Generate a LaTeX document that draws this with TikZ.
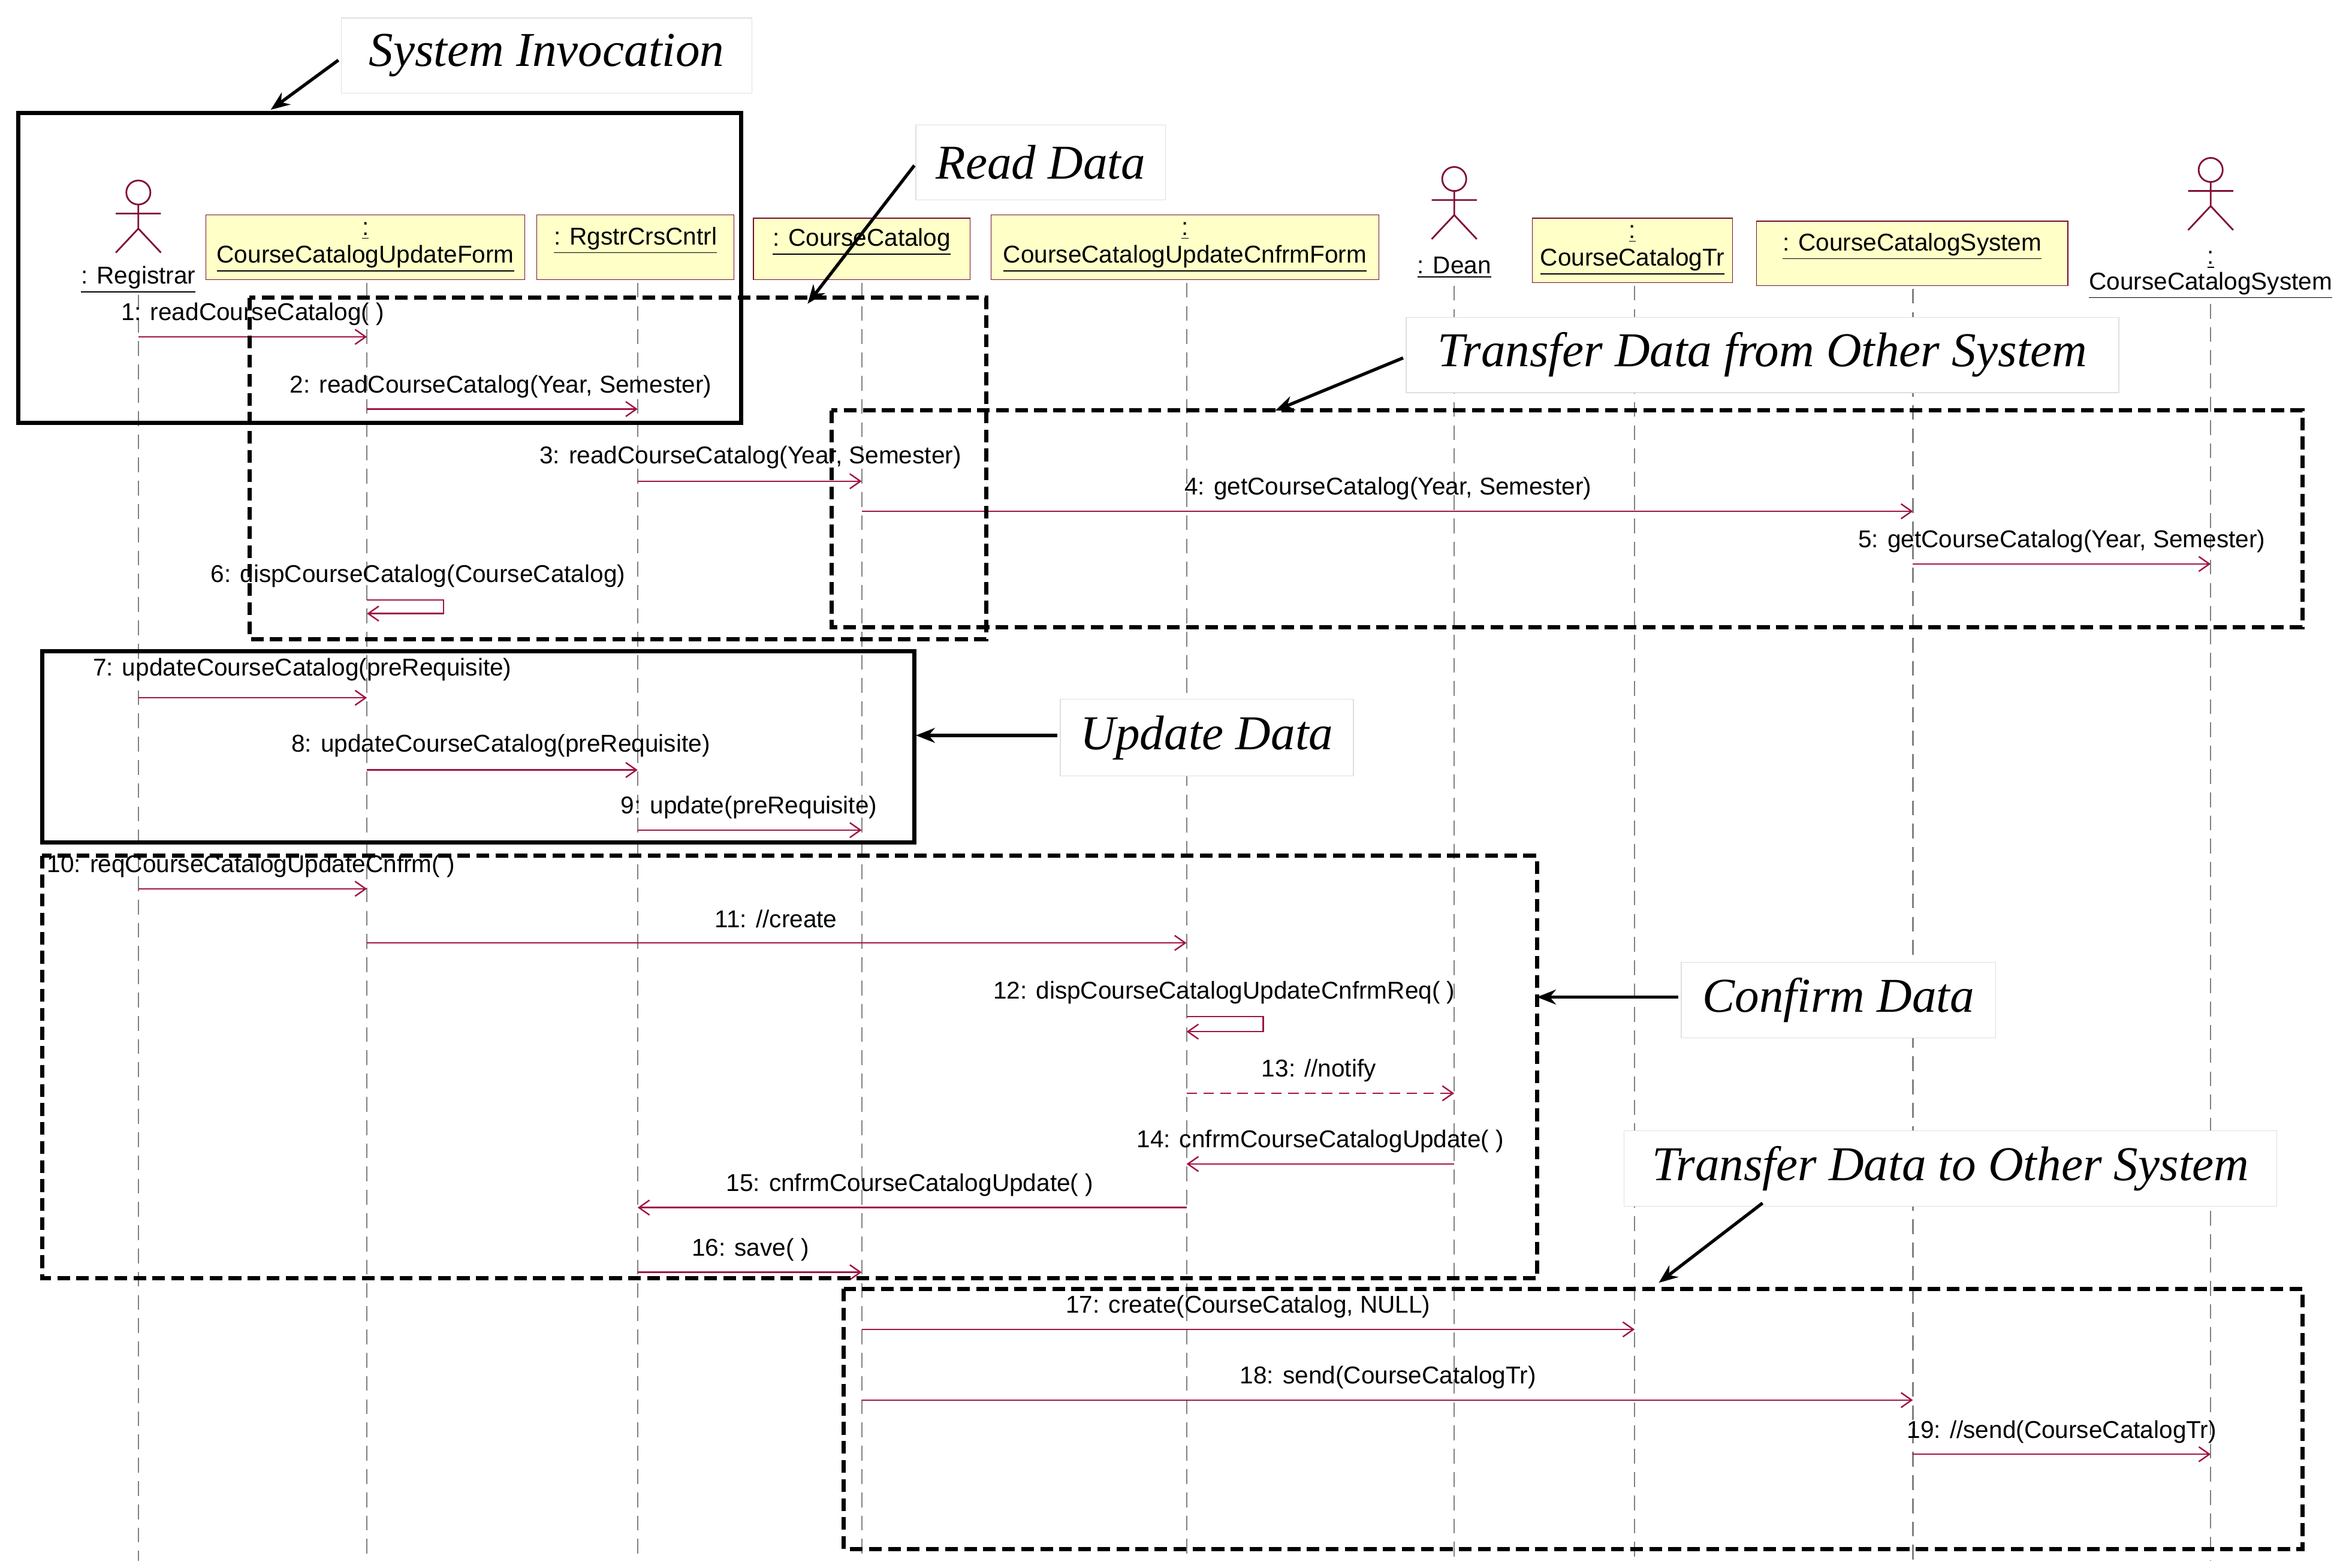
\documentclass[tikz,border=0pt]{standalone}
\usepackage{fontspec}
\setmainfont{Liberation Sans}
\newfontfamily\ttl{Liberation Serif}
\usetikzlibrary{arrows.meta}
\definecolor{msgc}{RGB}{160,20,70}
\definecolor{objf}{RGB}{255,255,200}
\tikzset{
 lbl/.style={font=\fontsize{11.5}{13}\selectfont,inner sep=1pt},
 obj/.style={draw=msgc!70!black,fill=objf,font=\fontsize{11.5}{13}\selectfont,align=center,inner sep=0pt},
 life/.style={gray,dash pattern=on 7pt off 4pt,line width=0.6pt},
 msg/.style={msgc,line width=0.7pt,-{Straight Barb[length=5pt,width=7pt]}},
 dmsg/.style={msg,dash pattern=on 5pt off 3pt},
 sfrm/.style={draw,line width=2pt},
 dfrm/.style={draw,line width=2pt,dash pattern=on 6pt off 3pt},
 tbox/.style={draw=gray!25,fill=white,font=\ttl\itshape\fontsize{23}{27}\selectfont,inner sep=0pt},
 pt/.style={-{Stealth[length=9pt,width=7pt]},line width=1.5pt},
 actor/.style={msgc!80!black,line width=0.8pt}
}
\newcommand{\actorfig}[3]{% x, headY, name
 \draw[actor] (#1,#2) circle (8);
 \draw[actor] (#1,#2+8) -- (#1,#2+24) (#1-15,#2+14) -- (#1+15,#2+14)
   (#1,#2+24) -- (#1-15,#2+40) (#1,#2+24) -- (#1+15,#2+40);}
\begin{document}
\begin{tikzpicture}[x=0.025cm,y=-0.025cm]
\useasboundingbox[fill=white] (0,0) rectangle (1560,1042.3);
% lifelines
\foreach \n/\x/\t in {L1/92/196,L2/244/188,L3/424/188,L4/573/188,L5/789/188,L6/967/190,L7/1087/190,L8/1272/192,L9/1470/202}{
 \coordinate (\n t) at (\x,\t); \coordinate (\n b) at (\x,1038);
 \draw[life] (\n t) -- (\n b);}
% objects
\node[obj,minimum width=212*0.025cm,minimum height=43*0.025cm] (o2) at (243,164.5) {\underline{:}\\\underline{CourseCatalogUpdateForm}};
\node[obj,minimum width=131*0.025cm,minimum height=43*0.025cm] (o3) at (422.5,164.5) {\underline{: RgstrCrsCntrl}\\[-2pt]\phantom{x}};
\node[obj,minimum width=144*0.025cm,minimum height=41*0.025cm] (o4) at (573,165.5) {\underline{: CourseCatalog}\\[-2pt]\phantom{x}};
\node[obj,minimum width=258*0.025cm,minimum height=43*0.025cm] (o5) at (788,164.5) {\underline{:}\\\underline{CourseCatalogUpdateCnfrmForm}};
\node[obj,minimum width=133*0.025cm,minimum height=43*0.025cm] (o7) at (1085.5,166.5) {\underline{:}\\\underline{CourseCatalogTr}};
\node[obj,minimum width=207*0.025cm,minimum height=43*0.025cm] (o8) at (1271.5,168.5) {\underline{: CourseCatalogSystem}\\[-2pt]\phantom{x}};
% actors
\actorfig{92}{128}{R}
\node[lbl] (a1) at (92,186) {\underline{: Registrar}};
\actorfig{967}{119}{D}
\node[lbl] (a6) at (967,178) {\underline{: Dean}};
\actorfig{1470}{113}{S}
\node[lbl,align=center] (a9) at (1470,183) {\underline{:}\\[-1pt]\underline{CourseCatalogSystem}};
% messages
\newcommand{\msgline}[5]{% style, x1, x2, y, label
 \coordinate (s) at (#2,#4); \coordinate (e) at (#3,#4);
 \draw[#1] (s) -- (e);}
\msgline{msg}{92}{244}{224}{} \node[lbl] at (168,209) {1: readCourseCatalog( )};
\msgline{msg}{244}{424}{272}{} \node[lbl] at (333,257) {2: readCourseCatalog(Year, Semester)};
\msgline{msg}{424}{573}{320}{} \node[lbl] at (499,304) {3: readCourseCatalog(Year, Semester)};
\msgline{msg}{573}{1272}{340}{} \node[lbl] at (923,325) {4: getCourseCatalog(Year, Semester)};
\msgline{msg}{1272}{1470}{375}{} \node[lbl] at (1371,360) {5: getCourseCatalog(Year, Semester)};
\draw[msg] (244,399) -- (295,399) -- (295,408) -- (244,408); \node[lbl] at (278,383) {6: dispCourseCatalog(CourseCatalog)};
\msgline{msg}{92}{244}{464}{} \node[lbl] at (201,445) {7: updateCourseCatalog(preRequisite)};
\msgline{msg}{244}{424}{512}{} \node[lbl] at (333,496) {8: updateCourseCatalog(preRequisite)};
\msgline{msg}{424}{573}{552}{} \node[lbl] at (498,537) {9: update(preRequisite)};
\msgline{msg}{92}{244}{591}{} \node[lbl] at (167,576) {10: reqCourseCatalogUpdateCnfrm( )};
\msgline{msg}{244}{789}{627}{} \node[lbl] at (516,611) {11: //create};
\draw[msg] (789,676) -- (840,676) -- (840,686) -- (789,686); \node[lbl] at (814,660) {12: dispCourseCatalogUpdateCnfrmReq( )};
\msgline{dmsg}{789}{967}{727}{} \node[lbl] at (877,712) {13: //notify};
\msgline{msg}{967}{789}{774}{} \node[lbl] at (878,759) {14: cnfrmCourseCatalogUpdate( )};
\msgline{msg}{789}{424}{803}{} \node[lbl] at (605,788) {15: cnfrmCourseCatalogUpdate( )};
\msgline{msg}{424}{573}{846}{} \node[lbl] at (499,831) {16: save( )};
\msgline{msg}{573}{1087}{884}{} \node[lbl] at (830,869) {17: create(CourseCatalog, NULL)};
\msgline{msg}{573}{1272}{931}{} \node[lbl] at (923,916) {18: send(CourseCatalogTr)};
\msgline{msg}{1272}{1470}{967}{} \node[lbl] at (1371,952) {19: //send(CourseCatalogTr)};
% frames
\draw[sfrm] (12,75) rectangle (493,281);
\draw[dfrm] (166,198) rectangle (656,425);
\draw[dfrm] (553,273) rectangle (1531,417);
\draw[sfrm] (28,433) rectangle (608,560);
\draw[dfrm] (28,569) rectangle (1022,850);
\draw[dfrm] (561,857) rectangle (1531,1030);
% titles
\node[tbox,minimum width=273*0.025cm,minimum height=50*0.025cm] (t1) at (363.5,37) {System Invocation};
\node[tbox,minimum width=166*0.025cm,minimum height=50*0.025cm] (t2) at (692,108) {Read Data};
\node[tbox,minimum width=474*0.025cm,minimum height=50*0.025cm] (t3) at (1172,236) {Transfer Data from Other System};
\node[tbox,minimum width=195*0.025cm,minimum height=51*0.025cm] (t4) at (802.5,490.5) {Update Data};
\node[tbox,minimum width=209*0.025cm,minimum height=50*0.025cm] (t5) at (1222.5,665) {Confirm Data};
\node[tbox,minimum width=434*0.025cm,minimum height=50*0.025cm] (t6) at (1297,777) {Transfer Data to Other System};
\coordinate (p1) at (180,73); \coordinate (p2) at (537,202); \coordinate (p3) at (848,273);
\coordinate (p4) at (609,489); \coordinate (p5) at (1022,663); \coordinate (p6) at (1103,853);
\draw[pt] (225,40) -- (p1);
\draw[pt] (608,110) -- (p2);
\draw[pt] (933,238) -- (p3);
\draw[pt] (703,489) -- (p4);
\draw[pt] (1116,663) -- (p5);
\draw[pt] (1172,800) -- (p6);
\end{tikzpicture}
\end{document}
